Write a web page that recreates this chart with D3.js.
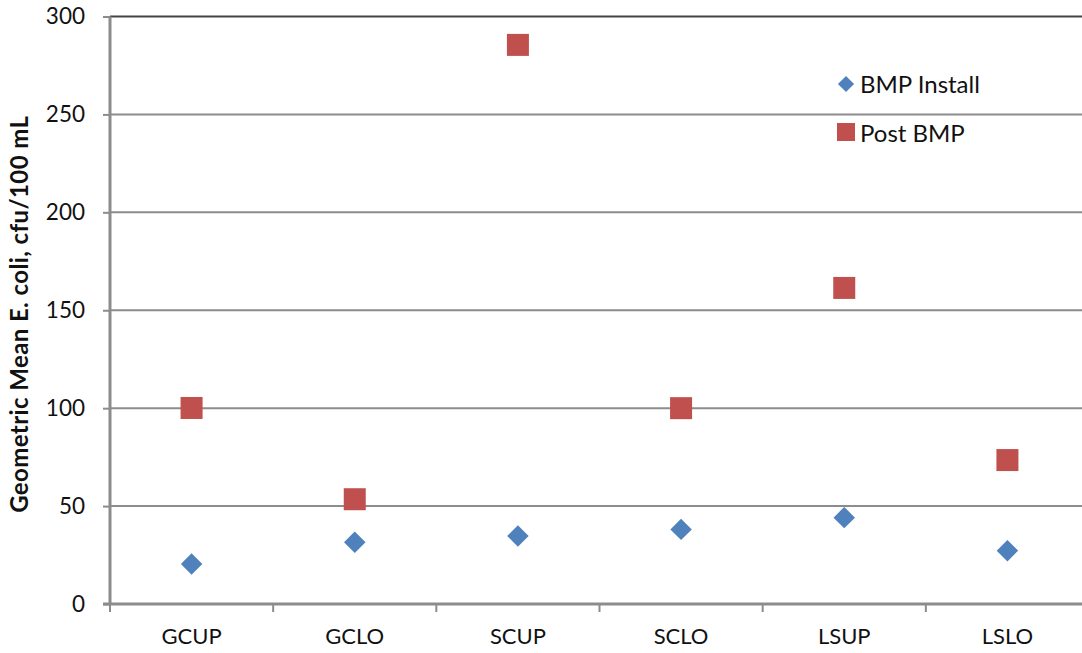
<!DOCTYPE html>
<html><head><meta charset="utf-8">
<script src="https://cdn.jsdelivr.net/npm/d3@7"></script>
<style>body{margin:0;background:#fff;} svg{display:block;}</style>
</head><body>
<svg id="c" width="1082" height="653"></svg>
<script>
const categories = ["GCUP","GCLO","SCUP","SCLO","LSUP","LSLO"];
const bmpInstall = [20.4, 31.5, 34.7, 38.1, 44.1, 27.2];
const postBmp = [100.1, 53.5, 285.5, 100, 161.4, 73.5];
const yTicks = [0,50,100,150,200,250,300];
const seriesNames = ["BMP Install","Post BMP"];
const colors = ["#4F81BD","#C0504D"];

const svg = d3.select("#c");
const font = "Lato, 'Open Sans', sans-serif";
const L = 110, R = 1089, T = 16.5, B = 604;
const x = d3.scaleBand().domain(categories).range([L, R]);
const y = d3.scaleLinear().domain([0,300]).range([B, T]);

// gridlines
svg.append("g").selectAll("line").data(yTicks.filter(d=>d>0)).join("line")
  .attr("x1", L).attr("x2", 1082).attr("y1", d=>y(d)).attr("y2", d=>y(d))
  .attr("stroke", d=>d===300?"#444":"#8c8c8c").attr("stroke-width", 2);

// y axis
const ya = svg.append("g").attr("transform",`translate(${L},0)`)
  .call(d3.axisLeft(y).tickValues(yTicks).tickSize(7).tickPadding(18));
ya.select(".domain").attr("stroke","#8c8c8c").attr("stroke-width",3).attr("d",`M-0,${B}V${T}`);
ya.selectAll(".tick line").attr("stroke","#8c8c8c").attr("stroke-width",2);
ya.selectAll("text").attr("font-family",font).attr("font-size",22.5).attr("fill","#111");

// x axis
const xa = svg.append("g").attr("transform",`translate(0,${B})`)
  .call(d3.axisBottom(x).tickSize(0).tickPadding(24));
xa.select(".domain").attr("stroke","#8c8c8c").attr("stroke-width",3).attr("d",`M${L-7},0H1082`);
xa.selectAll("text").attr("font-family",font).attr("font-size",22).attr("fill","#111");
xa.selectAll("line.tk").data(categories.map((c,i)=>i)).join("line").attr("class","tk")
  .attr("x1",i=>L+i*x.bandwidth()).attr("x2",i=>L+i*x.bandwidth())
  .attr("y1",0).attr("y2",8).attr("stroke","#8c8c8c").attr("stroke-width",2);

// y title
svg.append("text").attr("transform",`translate(28,${(T+B)/2+4}) rotate(-90)`)
  .attr("text-anchor","middle").attr("font-family",font).attr("font-weight","bold")
  .attr("font-size",24).attr("letter-spacing",0.4).attr("fill","#111").text("Geometric Mean E. coli, cfu/100 mL");

const cx = d => x(d) + x.bandwidth()/2;

// series
svg.append("g").selectAll("path").data(categories).join("path")
  .attr("d", d3.symbol().type(d3.symbolSquare).size(230)).attr("fill", colors[0])
  .attr("transform",(d,i)=>`translate(${cx(d)},${y(bmpInstall[i])}) rotate(45)`);
svg.append("g").selectAll("rect").data(categories).join("rect")
  .attr("x", d=>cx(d)-11).attr("y",(d,i)=>y(postBmp[i])-11)
  .attr("width",22).attr("height",22).attr("fill",colors[1]);

// legend
const lg = svg.append("g");
lg.append("path").attr("d", d3.symbol().type(d3.symbolSquare).size(130)())
  .attr("fill",colors[0]).attr("transform","translate(846,84) rotate(45)");
lg.append("rect").attr("x",837).attr("y",123).attr("width",18).attr("height",18).attr("fill",colors[1]);
lg.selectAll("text").data(seriesNames).join("text")
  .attr("x",860).attr("y",(d,i)=>93+i*49).attr("font-family",font).attr("font-size",24)
  .attr("fill","#111").text(d=>d);
</script>
</body></html>
